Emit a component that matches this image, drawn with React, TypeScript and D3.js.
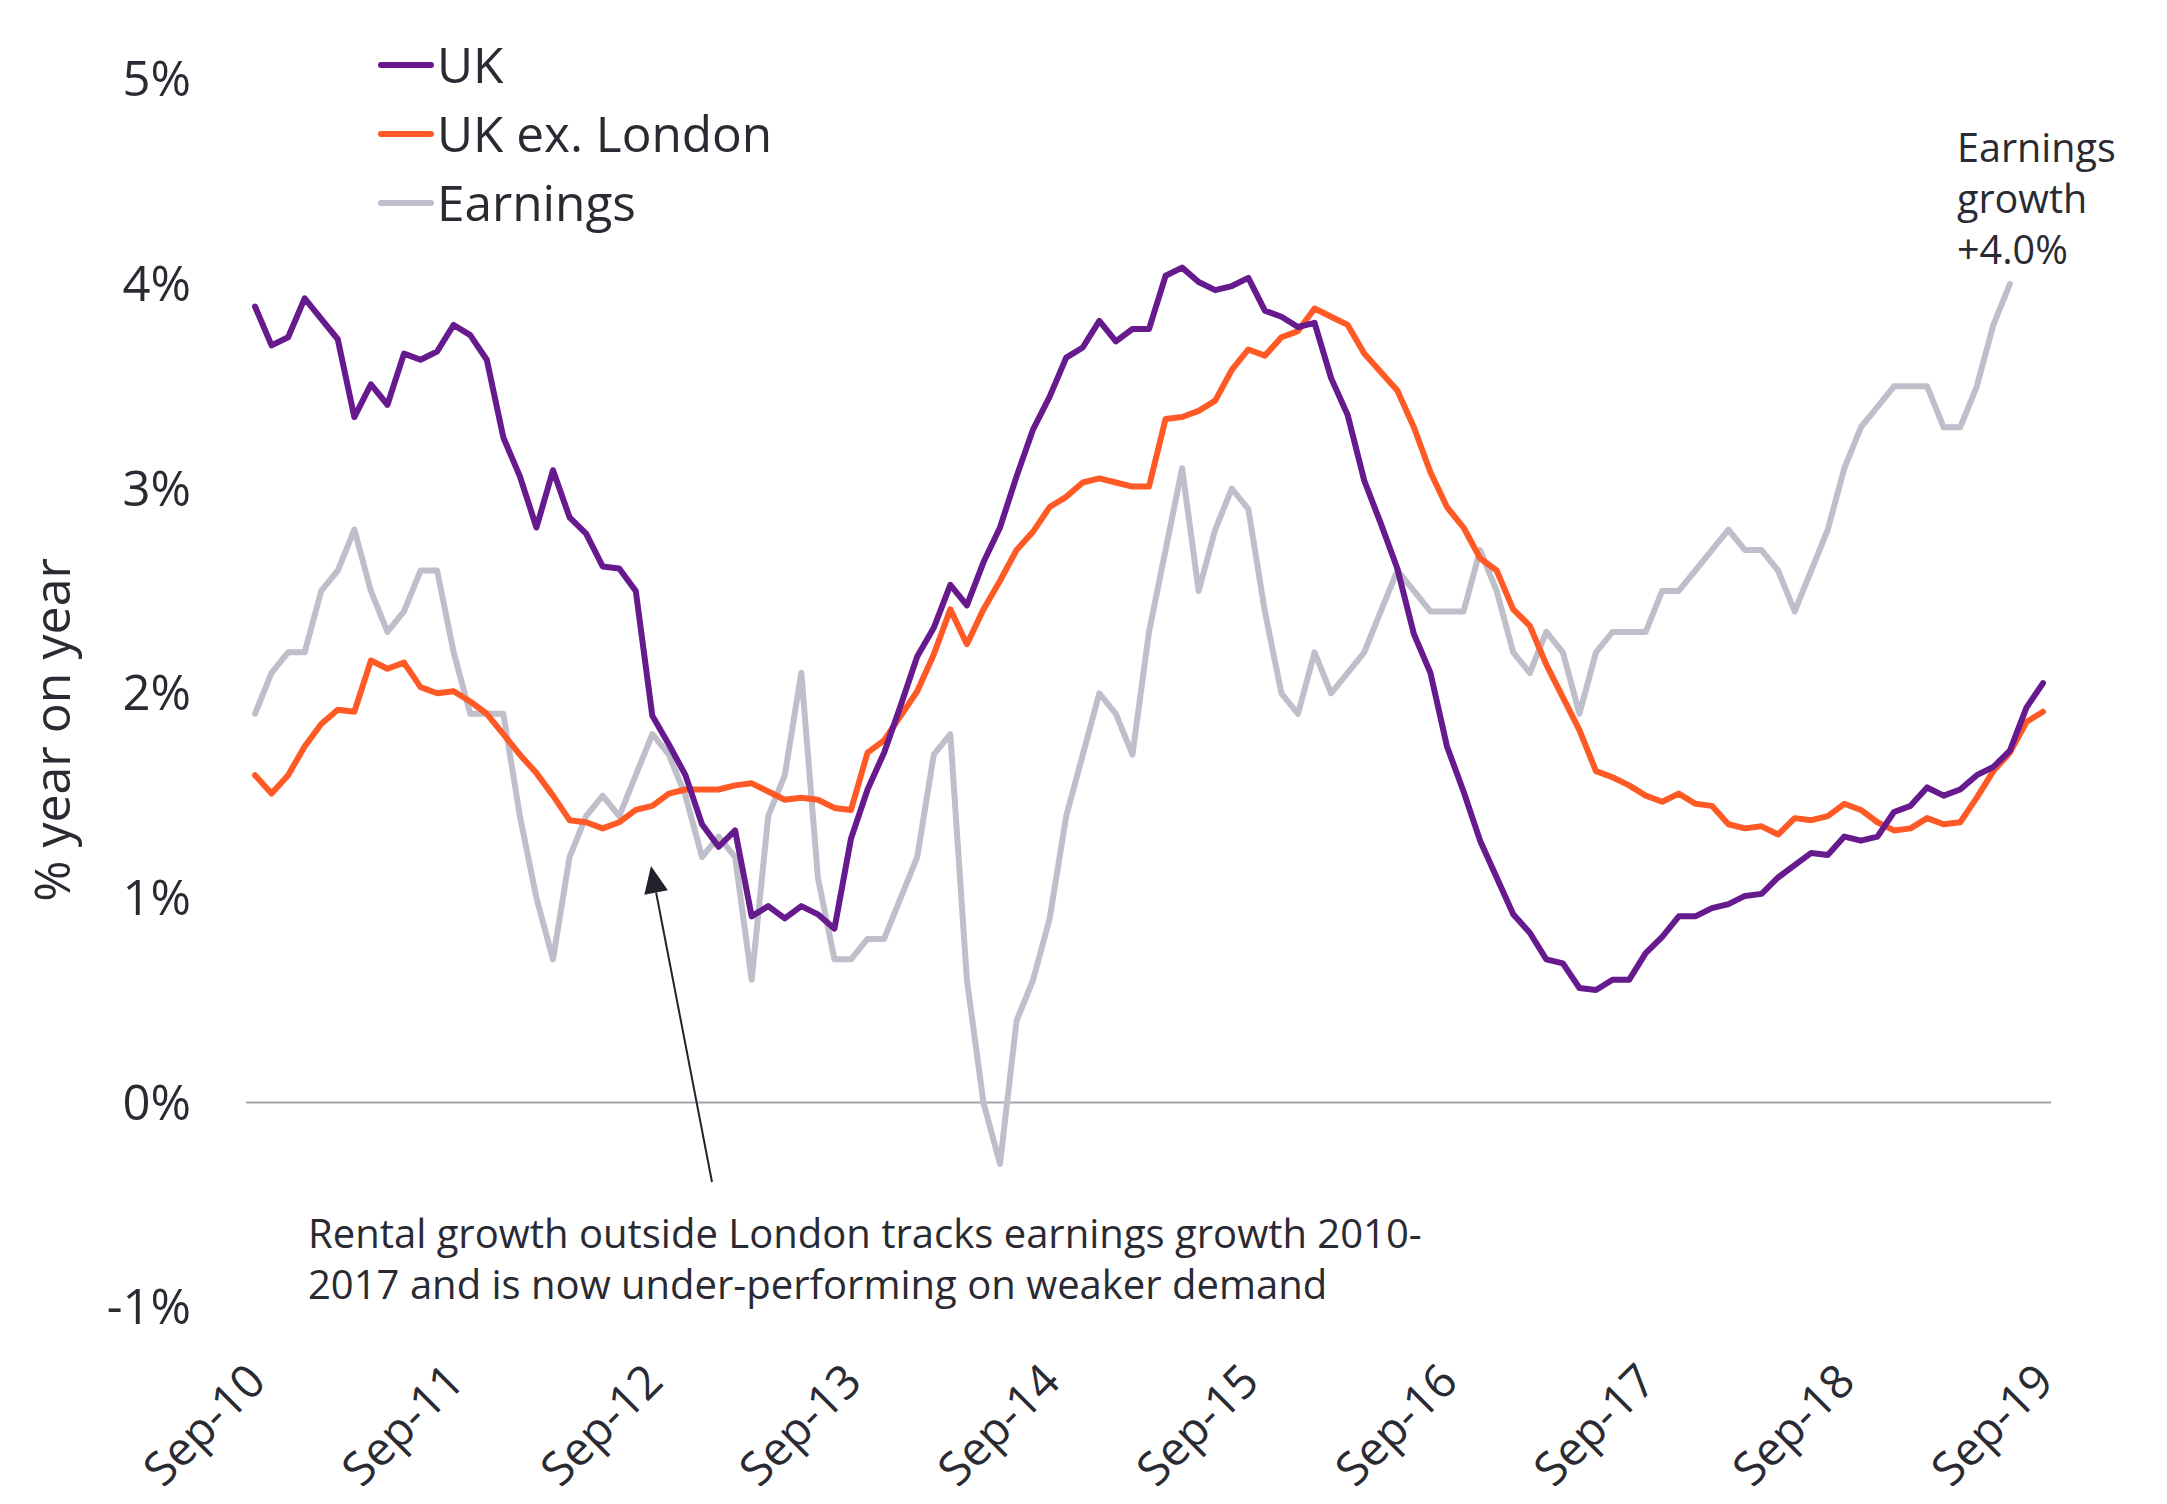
import React from "react";
import * as d3 from "d3";

// Monthly data, Sep-10 onwards (one value per month)
const ukSeries = [
  3.89, 3.70, 3.74, 3.93, 3.83, 3.73, 3.35, 3.51, 3.41, 3.66,
  3.63, 3.67, 3.80, 3.75, 3.63, 3.25, 3.06, 2.81, 3.09, 2.86,
  2.78, 2.62, 2.61, 2.50, 1.89, 1.75, 1.60, 1.36, 1.25, 1.33,
  0.91, 0.96, 0.90, 0.96, 0.92, 0.85, 1.29, 1.53, 1.71, 1.94,
  2.18, 2.32, 2.53, 2.43, 2.64, 2.81, 3.06, 3.29, 3.45, 3.64,
  3.69, 3.82, 3.72, 3.78, 3.78, 4.04, 4.08, 4.01, 3.97, 3.99,
  4.03, 3.87, 3.84, 3.79, 3.81, 3.54, 3.36, 3.04, 2.83, 2.61,
  2.29, 2.10, 1.74, 1.52, 1.28, 1.10, 0.92, 0.83, 0.70, 0.68,
  0.56, 0.55, 0.60, 0.60, 0.73, 0.81, 0.91, 0.91, 0.95, 0.97,
  1.01, 1.02, 1.10, 1.16, 1.22, 1.21, 1.30, 1.28, 1.30, 1.42,
  1.45, 1.54, 1.50, 1.53, 1.60, 1.64, 1.72, 1.93, 2.05,
];

const ukExLondonSeries = [
  1.60, 1.51, 1.60, 1.74, 1.85, 1.92, 1.91, 2.16, 2.12, 2.15,
  2.03, 2.00, 2.01, 1.96, 1.90, 1.80, 1.70, 1.61, 1.50, 1.38,
  1.37, 1.34, 1.37, 1.43, 1.45, 1.51, 1.53, 1.53, 1.53, 1.55,
  1.56, 1.52, 1.48, 1.49, 1.48, 1.44, 1.43, 1.71, 1.77, 1.89,
  2.01, 2.19, 2.41, 2.24, 2.41, 2.55, 2.70, 2.79, 2.91, 2.96,
  3.03, 3.05, 3.03, 3.01, 3.01, 3.34, 3.35, 3.38, 3.43, 3.58,
  3.68, 3.65, 3.74, 3.77, 3.88, 3.84, 3.80, 3.66, 3.57, 3.48,
  3.30, 3.08, 2.91, 2.81, 2.66, 2.60, 2.41, 2.33, 2.14, 1.98,
  1.82, 1.62, 1.59, 1.55, 1.50, 1.47, 1.51, 1.46, 1.45, 1.36,
  1.34, 1.35, 1.31, 1.39, 1.38, 1.40, 1.46, 1.43, 1.37, 1.33,
  1.34, 1.39, 1.36, 1.37, 1.49, 1.62, 1.71, 1.86, 1.91,
];

const earningsSeries = [
  1.9, 2.1, 2.2, 2.2, 2.5, 2.6, 2.8, 2.5, 2.3, 2.4,
  2.6, 2.6, 2.2, 1.9, 1.9, 1.9, 1.4, 1.0, 0.7, 1.2,
  1.4, 1.5, 1.4, 1.6, 1.8, 1.7, 1.5, 1.2, 1.3, 1.2,
  0.6, 1.4, 1.6, 2.1, 1.1, 0.7, 0.7, 0.8, 0.8, 1.0,
  1.2, 1.7, 1.8, 0.6, 0.0, -0.3, 0.4, 0.6, 0.9, 1.4,
  1.7, 2.0, 1.9, 1.7, 2.3, 2.7, 3.1, 2.5, 2.8, 3.0,
  2.9, 2.4, 2.0, 1.9, 2.2, 2.0, 2.1, 2.2, 2.4, 2.6,
  2.5, 2.4, 2.4, 2.4, 2.7, 2.5, 2.2, 2.1, 2.3, 2.2,
  1.9, 2.2, 2.3, 2.3, 2.3, 2.5, 2.5, 2.6, 2.7, 2.8,
  2.7, 2.7, 2.6, 2.4, 2.6, 2.8, 3.1, 3.3, 3.4, 3.5,
  3.5, 3.5, 3.3, 3.3, 3.5, 3.8, 4.0,
];

const tickLabels = ["Sep-10", "Sep-11", "Sep-12", "Sep-13", "Sep-14", "Sep-15", "Sep-16", "Sep-17", "Sep-18", "Sep-19"];
const tickMonths = [0, 12, 24, 36, 48, 60, 72, 84, 96, 108];
const yTicks = [-1, 0, 1, 2, 3, 4, 5];
const yTickLabels = ["-1%", "0%", "1%", "2%", "3%", "4%", "5%"];

const legendNames = ["UK", "UK ex. London", "Earnings"];
const colors = ["#661a8e", "#ff5a26", "#bfbfcb"];

const annotationLines = [
  "Rental growth outside London tracks earnings growth 2010-",
  "2017 and is now under-performing on weaker demand",
];
const earningsNote = ["Earnings", "growth", "+4.0%"];

const FONT = "'Open Sans', 'Noto Sans', sans-serif";
const TEXT = "#2a2a33";

export default function App() {
  const W = 2167;
  const H = 1504;
  const x = d3.scaleLinear().domain([0, 108]).range([255, 2043]);
  const y = d3.scaleLinear().domain([0, 4]).range([1102.6, 284]);
  const line = d3
    .line<number>()
    .x((_, i) => x(i))
    .y((d) => y(d));

  const series = [ukSeries, ukExLondonSeries, earningsSeries];
  const drawOrder = [2, 1, 0];

  // arrow geometry
  const tail = { x: 712, y: 1182 };
  const tip = { x: 651, y: 866 };
  const ang = Math.atan2(tip.y - tail.y, tip.x - tail.x);
  const hl = 27;
  const hw = 12;
  const bx = tip.x - hl * Math.cos(ang);
  const by = tip.y - hl * Math.sin(ang);
  const p1 = [bx + hw * Math.sin(ang), by - hw * Math.cos(ang)];
  const p2 = [bx - hw * Math.sin(ang), by + hw * Math.cos(ang)];

  return (
    <svg
      width={W}
      height={H}
      style={{ position: "absolute", left: 0, top: 0, background: "#fff" }}
      fontFamily={FONT}
    >
      {/* zero line */}
      <line x1={246} x2={2051} y1={y(0)} y2={y(0)} stroke="#a4a4ad" strokeWidth={2} />

      {/* y tick labels */}
      {yTicks.map((t, i) => (
        <text key={t} x={191} y={y(t) + 17} textAnchor="end" fontSize={49} fill={TEXT}>
          {yTickLabels[i]}
        </text>
      ))}

      {/* y axis title */}
      <text
        transform={`translate(70,730) rotate(-90)`}
        textAnchor="middle"
        fontSize={50}
        fill={TEXT}
      >
        % year on year
      </text>

      {/* x tick labels */}
      {tickMonths.map((m, i) => (
        <text
          key={m}
          transform={`translate(${x(m) + 13},1384) rotate(-45)`}
          textAnchor="end"
          fontSize={46.5}
          fill={TEXT}
        >
          {tickLabels[i]}
        </text>
      ))}

      {/* series lines */}
      {drawOrder.map((k) => (
        <path
          key={k}
          d={line(series[k]) || ""}
          fill="none"
          stroke={colors[k]}
          strokeWidth={6}
          strokeLinejoin="round"
          strokeLinecap="round"
        />
      ))}

      {/* legend */}
      {legendNames.map((n, i) => {
        const ly = 65 + i * 69;
        return (
          <g key={n}>
            <line x1={381} x2={431} y1={ly} y2={ly} stroke={colors[i]} strokeWidth={6} strokeLinecap="round" />
            <text x={437} y={ly + 18} fontSize={49.5} fill={TEXT}>
              {n}
            </text>
          </g>
        );
      })}

      {/* arrow annotation */}
      <line x1={tail.x} y1={tail.y} x2={bx} y2={by} stroke="#22222a" strokeWidth={2} />
      <polygon points={`${tip.x},${tip.y} ${p1[0]},${p1[1]} ${p2[0]},${p2[1]}`} fill="#22222a" />
      {annotationLines.map((t, i) => (
        <text key={i} x={308} y={1248 + i * 51} fontSize={40} fill={TEXT}>
          {t}
        </text>
      ))}

      {/* earnings note */}
      {earningsNote.map((t, i) => (
        <text key={i} x={1957} y={162 + i * 50.8} fontSize={39.5} fill={TEXT}>
          {t}
        </text>
      ))}
    </svg>
  );
}
